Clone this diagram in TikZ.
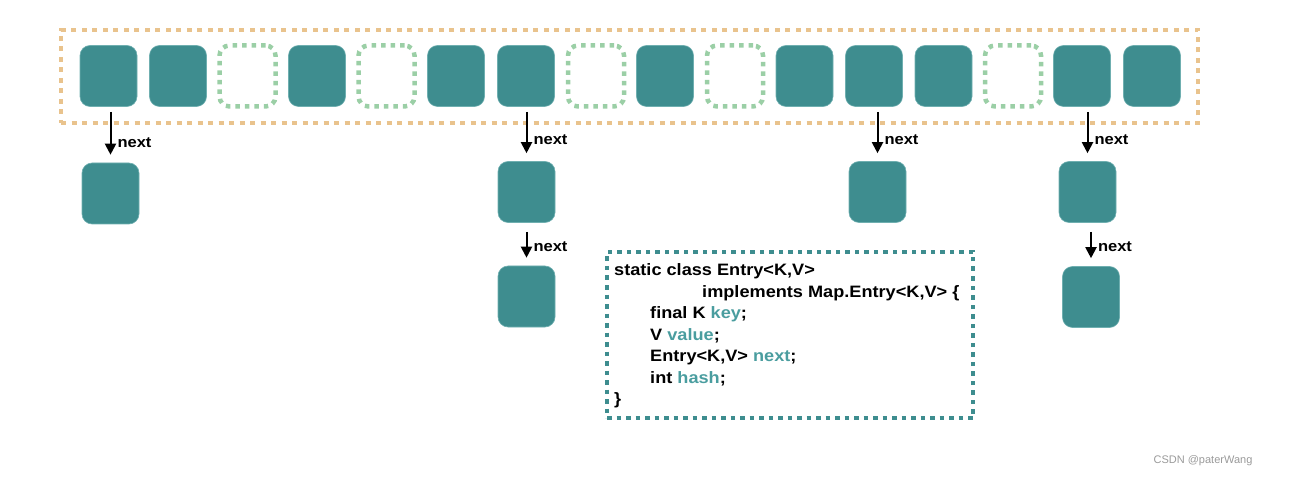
\documentclass[tikz,border=0pt]{standalone}
\usepackage{fontspec}
\setmainfont{Liberation Sans}
\newfontfamily\hv[FakeStretch=1.1]{Liberation Sans}
\usetikzlibrary{arrows.meta}
\definecolor{tealfill}{HTML}{3E8D8F}
\definecolor{tealedge}{HTML}{6FAFB0}
\definecolor{tealtext}{HTML}{4A9D9F}
\definecolor{greendot}{HTML}{9BCFA6}
\definecolor{orangedot}{HTML}{E9C38D}
\definecolor{wmgray}{HTML}{9A9A9A}
\tikzset{
  cell/.style={rectangle, rounded corners=10pt, minimum width=57pt, minimum height=61pt,
    fill=tealfill, draw=tealedge, line width=0.6pt, inner sep=0pt},
  empty/.style={rectangle, rounded corners=10pt, minimum width=56pt, minimum height=61pt,
    draw=greendot, line width=4.5pt, dash pattern=on 4.5pt off 5pt, inner sep=0pt},
  bucket/.style={rectangle, draw=orangedot, line width=4.5pt, dash pattern=on 5pt off 5.5pt, inner sep=0pt},
  codebox/.style={rectangle, draw=tealfill, line width=4pt, dash pattern=on 4.5pt off 5pt, inner sep=0pt},
  arr/.style={line width=2pt, -{Triangle[width=11pt,length=11pt]}},
  lbl/.style={font=\hv\fontsize{15}{18}\selectfont\bfseries, anchor=west, inner sep=0pt},
  code/.style={font=\hv\fontsize{16.5}{20}\selectfont\bfseries, anchor=base west, inner sep=0pt},
}
\newcommand{\tl}[1]{\textcolor{tealtext}{#1}}
\begin{document}
\begin{tikzpicture}[x=1pt,y=-1pt]
\useasboundingbox (0,0) rectangle (1295,478);
% table outline
\node[bucket, minimum width=1137pt, minimum height=93pt] (table) at (629.5,76.5) {};
% top row
\node[cell]  (b1)  at (108.5,76) {};
\node[cell]  (b2)  at (178,76) {};
\node[empty] (b3)  at (247.5,76) {};
\node[cell]  (b4)  at (317,76) {};
\node[empty] (b5)  at (386.5,76) {};
\node[cell]  (b6)  at (456,76) {};
\node[cell]  (b7)  at (526,76) {};
\node[empty] (b8)  at (596,76) {};
\node[cell]  (b9)  at (665,76) {};
\node[empty] (b10) at (735,76) {};
\node[cell]  (b11) at (804.5,76) {};
\node[cell]  (b12) at (874,76) {};
\node[cell]  (b13) at (943.5,76) {};
\node[empty] (b14) at (1013,76) {};
\node[cell]  (b15) at (1082,76) {};
\node[cell]  (b16) at (1152,76) {};
% chains
\node[cell] (c1)  at (110.5,193.5) {};
\node[cell] (c2a) at (526.5,192) {};
\node[cell] (c2b) at (526.5,296.5) {};
\node[cell] (c3)  at (877.5,192) {};
\node[cell] (c4a) at (1087.5,192) {};
\node[cell] (c4b) at (1091,297) {};
% arrows
\draw[arr, shorten <=5pt, shorten >=8pt] (b1.south -| c1.north) -- node[lbl, pos=0.65, xshift=6pt] {next} (c1.north);
\draw[arr, shorten <=5pt, shorten >=8pt] (b7.south -| c2a.north) -- node[lbl, pos=0.6, xshift=6pt] {next} (c2a.north);
\draw[arr, shorten <=5pt, shorten >=8pt] (b12.south -| c3.north) -- node[lbl, pos=0.6, xshift=6pt] {next} (c3.north);
\draw[arr, shorten <=5pt, shorten >=8pt] (b15.south -| c4a.north) -- node[lbl, pos=0.6, xshift=6pt] {next} (c4a.north);
\draw[arr, shorten <=9pt, shorten >=8pt] (c2a.south -| c2b.north) -- node[lbl, pos=0.55, xshift=6pt] {next} (c2b.north);
\draw[arr, shorten <=9pt, shorten >=8pt] (c4a.south -| c4b.north) -- node[lbl, pos=0.55, xshift=6pt] {next} (c4b.north);
% code box
\node[codebox, minimum width=366pt, minimum height=166pt] (codebox) at (790,335) {};
\node[code] (l1) at (614,275.5) {static class Entry<K,V>};
\node[code] (l2) at (702,297) {implements Map.Entry<K,V> \{};
\node[code] (l3) at (650,318.5) {final K \tl{key};};
\node[code] (l4) at (650,340) {V \tl{value};};
\node[code] (l5) at (650,361.5) {Entry<K,V> \tl{next};};
\node[code] (l6) at (650,383) {int \tl{hash};};
\node[code] (l7) at (614,404.5) {\}};
% watermark
\node[font=\fontsize{11}{13}\selectfont, text=wmgray, inner sep=0pt] (wm) at (1203,461) {CSDN @paterWang};
\end{tikzpicture}
\end{document}
